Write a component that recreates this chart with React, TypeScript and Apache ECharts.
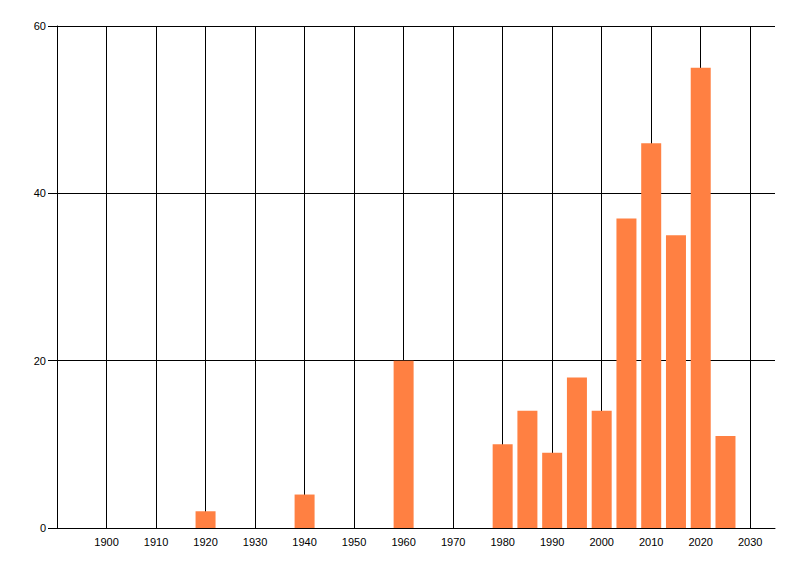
import React, { useEffect, useRef } from "react";
import * as echarts from "echarts";

const years = [1920, 1940, 1960, 1980, 1985, 1990, 1995, 2000, 2005, 2010, 2015, 2020, 2025];
const counts = [2, 4, 20, 10, 14, 9, 18, 14, 37, 46, 35, 55, 11];
const yTicks = [0, 20, 40, 60];
const xRange = [1890, 2035];

export default function App() {
  const ref = useRef<HTMLDivElement>(null);
  useEffect(() => {
    if (!ref.current) return;
    const chart = echarts.init(ref.current, null, { renderer: "svg" });
    const font = { fontFamily: "Liberation Sans", fontSize: 11, color: "#000" };
    chart.setOption({
      animation: false,
      backgroundColor: "#fff",
      grid: { left: 57, right: 25, top: 26, bottom: 48, containLabel: false },
      xAxis: {
        type: "value",
        min: xRange[0],
        max: xRange[1],
        interval: 10,
        axisLine: { show: true, onZero: false, lineStyle: { color: "#000", width: 1 } },
        axisTick: { show: false },
        axisLabel: {
          ...font,
          margin: 8,
          showMinLabel: false,
          showMaxLabel: false,
          formatter: (v: number) => (v % 10 === 0 && v > xRange[0] && v < xRange[1] ? String(v) : ""),
        },
        splitLine: { show: true, showMaxLine: false, lineStyle: { color: "#000", width: 1 } },
      },
      yAxis: {
        type: "value",
        min: yTicks[0],
        max: yTicks[yTicks.length - 1],
        interval: 20,
        axisLine: { show: true, lineStyle: { color: "#000", width: 1 } },
        axisTick: { show: true, length: 9, lineStyle: { color: "#000" } },
        axisLabel: { ...font, margin: 11 },
        splitLine: { show: true, lineStyle: { color: "#000", width: 1 } },
      },
      series: [
        {
          type: "bar",
          data: years.map((y, i) => [y, counts[i]]),
          barWidth: 20,
          itemStyle: { color: "#FF8042" },
          z: 5,
        },
      ],
    });
    return () => chart.dispose();
  }, []);
  return (
    <div
      ref={ref}
      style={{ position: "fixed", left: 0, top: 0, width: 800, height: 576, background: "#fff" }}
    />
  );
}
